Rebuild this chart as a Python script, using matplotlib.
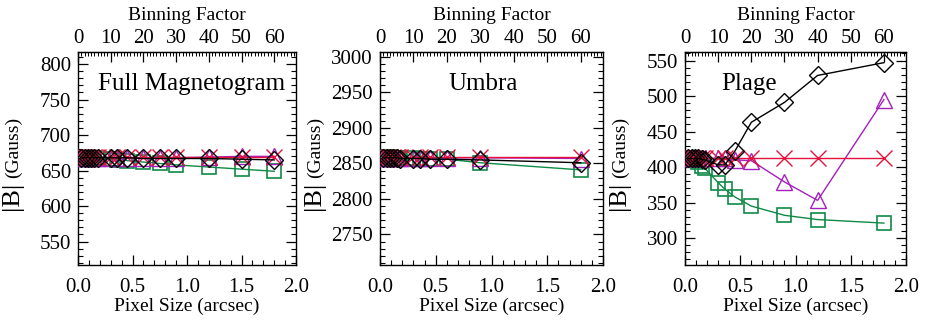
import matplotlib
matplotlib.use("Agg")
import matplotlib.pyplot as plt
from matplotlib.ticker import MultipleLocator, FixedLocator

plt.rcParams['font.family'] = ['Liberation Serif', 'DejaVu Serif']
plt.rcParams['mathtext.fontset'] = 'stix'

# ---------------- data ----------------
pix_full = [0.03, 0.06, 0.09, 0.12, 0.15, 0.18, 0.30, 0.36, 0.45, 0.60, 0.75, 0.90, 1.20, 1.50, 1.80]
full_x   = [669, 669, 669, 669, 669, 669, 669, 669, 669, 669, 669, 669, 669, 669, 669]
full_tri = [668, 668, 668, 668, 668, 668, 668, 668, 668, 668, 668, 668, 669, 670, 670]
full_dia = [668, 668, 668, 668, 668, 668, 668, 668, 668, 667, 667, 667, 667, 666, 665]
full_sq  = [668, 668, 668, 667, 667, 667, 666, 665, 664, 662, 660, 658, 655, 652, 649]

pix_umb = [0.03, 0.06, 0.09, 0.12, 0.15, 0.18, 0.30, 0.36, 0.45, 0.60, 0.90, 1.80]
umb_x   = [2859, 2859, 2859, 2859, 2859, 2859, 2859, 2859, 2859, 2859, 2859, 2859]
umb_tri = [2858, 2858, 2858, 2858, 2858, 2858, 2858, 2858, 2858, 2858, 2858, 2857]
umb_dia = [2858, 2858, 2858, 2858, 2858, 2857, 2857, 2857, 2856, 2856, 2855, 2851]
umb_sq  = [2859, 2859, 2859, 2858, 2858, 2858, 2858, 2857, 2857, 2856, 2851, 2841]

pix_pl = [0.03, 0.06, 0.09, 0.12, 0.15, 0.18, 0.30, 0.36, 0.45, 0.60, 0.90, 1.20, 1.80]
pl_x   = [413, 413, 413, 413, 413, 413, 413, 413, 413, 413, 413, 413, 413]
pl_tri = [412, 412, 412, 412, 412, 412, 412, 412, 410, 409, 379, 353, 495]
pl_dia = [412, 412, 412, 412, 411, 410, 403, 403, 422, 463, 491, 529, 547]
pl_sq  = [412, 411, 410, 407, 402, 398, 378, 369, 358, 345, 332, 326, 321]

titles = ["Full Magnetogram", "Umbra", "Plage"]
ylims = [(517, 817), (2707, 3007), (262, 562)]
top_ticks = [0, 10, 20, 30, 40, 50, 60]
arcsec_per_bin = 0.03

C_RED = "#e3123c"
C_MAG = "#a51fbd"
C_BLK = "#000000"
C_GRN = "#0f8a46"

# ---------------- layout ----------------
W, H = 926, 322
fig = plt.figure(figsize=(W / 100, H / 100), dpi=100)

boxes = [(78, 296), (380, 603), (685, 906)]
top_px, bot_px = 52, 265

datasets = [
    (pix_full, full_x, full_tri, full_dia, full_sq),
    (pix_umb, umb_x, umb_tri, umb_dia, umb_sq),
    (pix_pl, pl_x, pl_tri, pl_dia, pl_sq),
]
title_pos = [(285, 84, 'right'), (483, 84, 'center'), (749, 84, 'center')]

for i, ((l, r), data) in enumerate(zip(boxes, datasets)):
    ax = fig.add_axes([l / W, (H - bot_px) / H, (r - l) / W, (bot_px - top_px) / H])
    px, sx, stri, sdia, ssq = data
    ax.plot(px, ssq, color=C_GRN, lw=1.0, marker='s', ms=10, mfc='none', mec=C_GRN, mew=1.2, zorder=2)
    ax.plot(px, stri, color=C_MAG, lw=1.0, marker='^', ms=11, mfc='none', mec=C_MAG, mew=1.0, zorder=3)
    ax.plot(px, sx, color=C_RED, lw=1.0, marker='x', ms=11, mfc='none', mec=C_RED, mew=1.0, zorder=4)
    ax.plot(px, sdia, color=C_BLK, lw=1.0, marker='D', ms=9.5, mfc='none', mec=C_BLK, mew=1.0, zorder=5)

    ax.set_xlim(0, 2.0)
    ax.set_ylim(*ylims[i])
    ax.xaxis.set_major_locator(MultipleLocator(0.5))
    ax.xaxis.set_minor_locator(MultipleLocator(0.1))
    ax.yaxis.set_major_locator(MultipleLocator(50))
    ax.yaxis.set_minor_locator(MultipleLocator(10))
    ax.xaxis.set_major_formatter(matplotlib.ticker.FormatStrFormatter('%.1f'))
    ax.tick_params(which='both', direction='in', right=True, top=False, labelsize=15)
    ax.tick_params(axis='x', which='both', pad=9)
    ax.tick_params(axis='y', which='both', pad=5)
    ax.tick_params(which='major', length=7, width=0.9)
    ax.tick_params(which='minor', length=3.5, width=0.8)
    for sp in ax.spines.values():
        sp.set_linewidth(1.0)
    ax.set_xlabel("Pixel Size (arcsec)", fontsize=14, labelpad=1)

    sec = ax.secondary_xaxis('top', functions=(lambda x: x / arcsec_per_bin, lambda b: b * arcsec_per_bin))
    sec.xaxis.set_major_locator(FixedLocator(top_ticks))
    sec.xaxis.set_minor_locator(MultipleLocator(1))
    sec.tick_params(which='both', direction='in', labelsize=15, pad=3)
    sec.tick_params(which='major', length=7, width=0.9)
    sec.tick_params(which='minor', length=3, width=0.7)
    sec.set_xlabel("Binning Factor", fontsize=14, labelpad=6)

    tx, ty, ha = title_pos[i]
    fig.text(tx / W, 1 - ty / H, titles[i], fontsize=18, ha=ha, va='center')

    # y label: |B| (Gauss)
    yl_x = l - 66
    fig.text(yl_x / W, 1 - 196 / H, "|B|", fontsize=19, rotation=90, ha='center', va='center')
    fig.text((yl_x + 1) / W, 1 - 147 / H, "(Gauss)", fontsize=14, rotation=90, ha='center', va='center')

fig.savefig("out.png", dpi=100)
